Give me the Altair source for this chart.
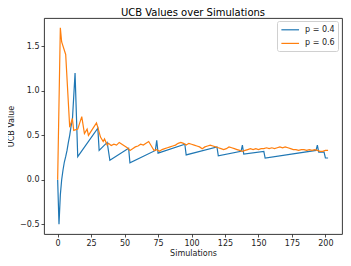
import altair as alt
import pandas as pd

# p = 0.4 series (blue)
blue_x = [0, 1, 2, 3, 4, 5, 6, 7, 8, 9, 10, 11, 13, 15, 30, 31, 37, 39, 53, 54,
          73, 74, 75, 95, 96, 119, 120, 137, 138, 139, 154, 155, 193, 194, 195,
          199, 200, 202]
blue_y = [0.0, -0.5, -0.17, 0.0, 0.11, 0.2, 0.26, 0.33, 0.42, 0.5, 0.6, 0.67, 1.2,
          0.26, 0.58, 0.33, 0.42, 0.22, 0.355, 0.19, 0.33, 0.445, 0.30, 0.40, 0.28,
          0.37, 0.27, 0.32, 0.39, 0.29, 0.32, 0.245, 0.33, 0.39, 0.31, 0.31, 0.245,
          0.245]

# p = 0.6 series (orange)
orange_x = [0, 2, 3, 6, 9, 11, 12, 15, 18, 20, 22, 23, 26, 29, 30, 32, 34, 35, 37,
            38, 40, 42, 44, 46, 48, 50, 52, 54, 56, 58, 60, 62, 64, 66, 68, 70, 72,
            74, 76, 78, 80, 82, 84, 86, 88, 90, 92, 94, 96, 98, 100, 102, 104, 106,
            108, 110, 112, 114, 116, 118, 120, 122, 124, 126, 128, 130, 132, 134,
            136, 138, 140, 142, 144, 146, 148, 150, 152, 154, 156, 158, 160, 162,
            164, 166, 168, 170, 172, 174, 176, 178, 180, 182, 184, 186, 188, 190,
            192, 194, 196, 198, 200, 202]
orange_y = [0.0, 1.71, 1.55, 1.41, 0.59, 0.69, 0.555, 0.57, 0.71, 0.52, 0.57, 0.50,
            0.57, 0.64, 0.59, 0.48, 0.43, 0.46, 0.39, 0.41, 0.385, 0.40, 0.39, 0.42,
            0.40, 0.38, 0.36, 0.33, 0.35, 0.37, 0.38, 0.40, 0.39, 0.41, 0.43, 0.38,
            0.33, 0.34, 0.32, 0.34, 0.35, 0.36, 0.37, 0.38, 0.39, 0.41, 0.42, 0.41,
            0.39, 0.41, 0.40, 0.39, 0.38, 0.37, 0.35, 0.37, 0.38, 0.39, 0.38, 0.37,
            0.36, 0.35, 0.34, 0.35, 0.37, 0.36, 0.35, 0.34, 0.33, 0.32, 0.33, 0.34,
            0.35, 0.34, 0.35, 0.34, 0.35, 0.35, 0.36, 0.35, 0.36, 0.35, 0.36, 0.37,
            0.36, 0.37, 0.36, 0.35, 0.34, 0.34, 0.33, 0.34, 0.34, 0.33, 0.34, 0.33,
            0.34, 0.33, 0.32, 0.32, 0.33, 0.33]

series_names = ["p = 0.4", "p = 0.6"]
series_colors = ["#1f77b4", "#ff7f0e"]
x_ticks = [0, 25, 50, 75, 100, 125, 150, 175, 200]
y_ticks = [-0.5, 0.0, 0.5, 1.0, 1.5]

rows = []
for i, (x, y) in enumerate(zip(blue_x, blue_y)):
    rows.append({"sim": x, "ucb": y, "series": series_names[0], "order": i})
for i, (x, y) in enumerate(zip(orange_x, orange_y)):
    rows.append({"sim": x, "ucb": y, "series": series_names[1], "order": i})
df = pd.DataFrame(rows)

FONT = "DejaVu Sans"

chart = (
    alt.Chart(df)
    .mark_line(strokeWidth=1.2)
    .encode(
        x=alt.X("sim:Q", title="Simulations",
                scale=alt.Scale(domain=[-10.2, 212.4], nice=False, zero=False),
                axis=alt.Axis(values=x_ticks, format="d", titlePadding=2)),
        y=alt.Y("ucb:Q", title="UCB Value",
                scale=alt.Scale(domain=[-0.61, 1.82], nice=False, zero=False),
                axis=alt.Axis(values=y_ticks, format=".1f", titlePadding=4)),
        color=alt.Color("series:N",
                        scale=alt.Scale(domain=series_names, range=series_colors),
                        legend=alt.Legend(title=None, orient="none", legendX=233,
                                          legendY=3, symbolType="M-1,0H3",
                                          symbolSize=78, symbolStrokeWidth=1.2,
                                          labelFont=FONT, labelFontSize=8,
                                          labelColor="#222", labelOffset=13.8,
                                          rowPadding=3.6, padding=3.3,
                                          strokeColor="#d0d0d0", fillColor="white",
                                          cornerRadius=2)),
        order="order:Q",
    )
    .properties(
        width=298, height=216,
        title=alt.TitleParams("UCB Values over Simulations", font=FONT,
                              fontSize=10, fontWeight="normal", color="#000",
                              offset=0),
        autosize=alt.AutoSizeParams(type="none"),
        padding={"left": 36, "top": 10, "right": 1, "bottom": 24},
    )
    .configure_view(stroke="#222", strokeWidth=0.9)
    .configure_axis(
        grid=False, domain=False, labelFont=FONT, labelFontSize=8,
        labelColor="#222", tickColor="#222", tickSize=3, tickWidth=0.8,
        titleFont=FONT, titleFontSize=8, titleFontWeight="normal",
        titleColor="#222", labelPadding=2,
    )
)

chart.save("out.html", embed_options={"renderer": "svg", "actions": False})
